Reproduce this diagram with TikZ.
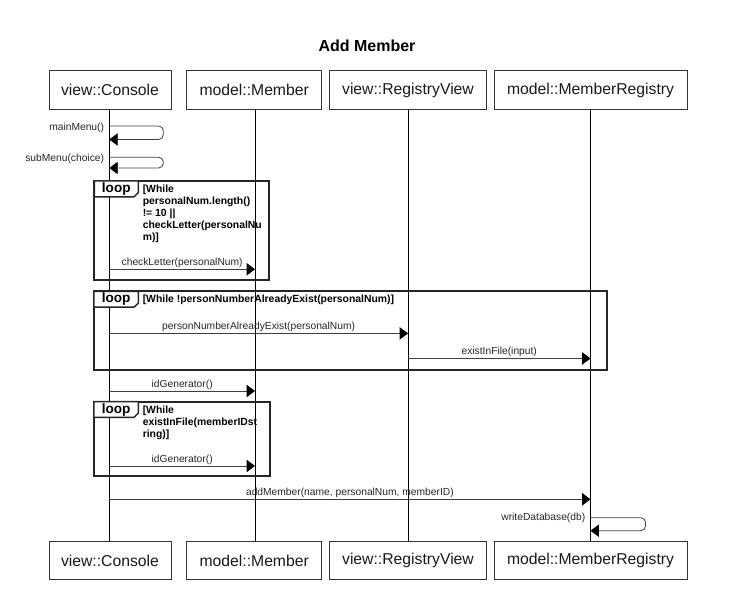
\documentclass[tikz,border=0pt]{standalone}
\usepackage{fontspec}
\setmainfont{Liberation Sans}
\usetikzlibrary{arrows.meta,calc}
\begin{document}
\begin{tikzpicture}[x=0.75pt,y=-0.75pt,
  actor/.style={draw=black!80,line width=0.6pt,minimum height=29pt,inner sep=0pt,
    font=\fontsize{11.8}{14}\selectfont,text=black!90},
  life/.style={draw=black,line width=0.6pt},
  msg/.style={draw=black!75,line width=0.6pt,-{Triangle[length=6.3pt,width=9.3pt,color=black]}},
  selfmsg/.style={msg,rounded corners=3.5pt},
  mlabel/.style={font=\fontsize{7.7}{9}\selectfont,text=black!85,inner sep=1.5pt},
  frame/.style={draw=black!85,line width=1.4pt},
  tag/.style={draw=black!85,line width=1.1pt,fill=white},
  tagtext/.style={font=\fontsize{10.2}{12}\selectfont\bfseries,inner sep=0pt},
  guard/.style={font=\fontsize{7.8}{9}\selectfont\bfseries,align=left,inner sep=0pt,anchor=north west}
]
\useasboundingbox (0,0) rectangle (735,591);
\node[font=\fontsize{12}{14}\selectfont\bfseries] (title) at (367,46) {Add Member};

% head boxes
\node[actor,minimum width=91.5pt] (c1) at (110,90) {view::Console};
\node[actor,minimum width=101.3pt] (m1) at (254.2,90) {model::Member};
\node[actor,minimum width=118.3pt] (r1) at (408,90) {view::RegistryView};
\node[actor,minimum width=144.8pt] (g1) at (590.5,90) {model::MemberRegistry};
% foot boxes
\node[actor,minimum width=91.5pt] (c2) at (110,560.5) {view::Console};
\node[actor,minimum width=101.3pt] (m2) at (254.2,560.5) {model::Member};
\node[actor,minimum width=118.3pt] (r2) at (408,560.5) {view::RegistryView};
\node[actor,minimum width=144.8pt] (g2) at (590.5,560.5) {model::MemberRegistry};

% lifelines
\draw[life] (c1.south) ++(-0.7,0) coordinate (cl) -- (cl |- c2.north);
\draw[life] (m1.south) ++(0.8,0) coordinate (ml) -- (ml |- m2.north);
\draw[life] (r1.south) coordinate (rl) -- (rl |- r2.north);
\draw[life] (g1.south) coordinate (gl) -- (gl |- g2.north);

% mainMenu
\coordinate (s1a) at (cl |- 0,126);
\coordinate (s1b) at (cl |- 0,139.5);
\draw[selfmsg] (s1a) -- ($(s1a)+(54,0)$) -- ($(s1b)+(54,0)$) -- (s1b);
\node[mlabel,anchor=east] (l1) at ($(s1a)+(-3,2)$) {mainMenu()};
% subMenu
\coordinate (s2a) at (cl |- 0,157.3);
\coordinate (s2b) at (cl |- 0,168);
\draw[selfmsg] (s2a) -- ($(s2a)+(54,0)$) -- ($(s2b)+(54,0)$) -- (s2b);
\node[mlabel,anchor=east] (l2) at ($(s2a)+(-3,2)$) {subMenu(choice)};

% loop 1
\draw[frame] (94.3,181) rectangle (269.3,280.3);
\draw[tag] (94.3,181) -- (138.3,181) -- (138.3,192.5) -- (134,196.8) -- (94.3,196.8) -- cycle;
\node[tagtext] (t1) at (116.3,189) {loop};
\node[guard] (g1t) at (142.5,184.5) {[While\\personalNum.length()\\!= 10 ||\\checkLetter(personalNu\\m)]};
\coordinate (a1) at (cl |- 0,269.3);
\draw[msg] (a1) -- (a1 -| ml) node[mlabel,midway,above,inner sep=0.8pt] {checkLetter(personalNum)};

% loop 2
\draw[frame] (93.8,291.4) rectangle (606.9,370.2);
\draw[tag] (93.8,291.4) -- (138.4,291.4) -- (138.4,303) -- (134,307.2) -- (93.8,307.2) -- cycle;
\node[tagtext] (t2) at (116.1,299.4) {loop};
\node[guard] (g2t) at (142.5,294.6) {[While !personNumberAlreadyExist(personalNum)]};
\coordinate (a2) at (cl |- 0,333.4);
\draw[msg] (a2) -- (a2 -| rl) node[mlabel,midway,above,inner sep=0.8pt] {personNumberAlreadyExist(personalNum)};
\coordinate (a3) at (rl |- 0,358.5);
\draw[msg] (a3) -- (a3 -| gl) node[mlabel,midway,above,inner sep=0.8pt] {existInFile(input)};

% idGenerator
\coordinate (a4) at (cl |- 0,391);
\draw[msg] (a4) -- (a4 -| ml) node[mlabel,midway,above,inner sep=0.8pt] {idGenerator()};

% loop 3
\draw[frame] (94,401.7) rectangle (270,476);
\draw[tag] (94,401.7) -- (138.3,401.7) -- (138.3,413) -- (134,417.3) -- (94,417.3) -- cycle;
\node[tagtext] (t3) at (116.1,409.7) {loop};
\node[guard] (g3t) at (142.5,405.5) {[While\\existInFile(memberIDst\\ring)]};
\coordinate (a5) at (cl |- 0,466);
\draw[msg] (a5) -- (a5 -| ml) node[mlabel,midway,above,inner sep=0.8pt] {idGenerator()};

% addMember
\coordinate (a6) at (cl |- 0,499.3);
\draw[msg] (a6) -- (a6 -| gl) node[mlabel,midway,above,inner sep=0.8pt] {addMember(name, personalNum, memberID)};

% writeDatabase
\coordinate (s3a) at (gl |- 0,517.7);
\coordinate (s3b) at (gl |- 0,530.7);
\draw[selfmsg] (s3a) -- ($(s3a)+(55,0)$) -- ($(s3b)+(55,0)$) -- (s3b);
\node[mlabel,anchor=east] (l3) at ($(s3a)+(-3,0.5)$) {writeDatabase(db)};
\end{tikzpicture}
\end{document}
